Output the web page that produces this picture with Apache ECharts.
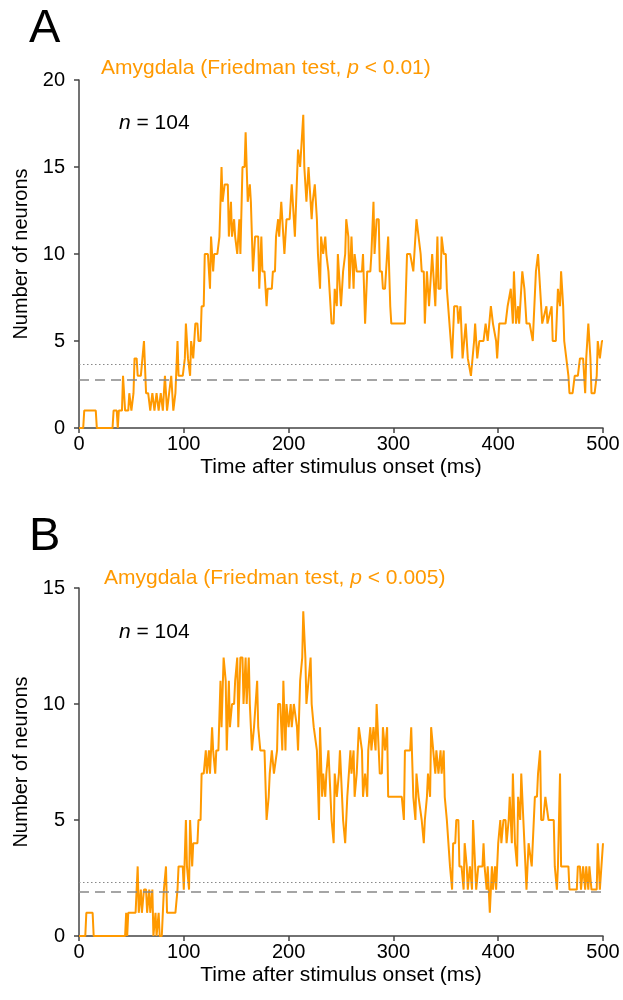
<!DOCTYPE html>
<html>
<head>
<meta charset="utf-8">
<script src="https://cdn.jsdelivr.net/npm/echarts@6/dist/echarts.min.js"></script>
<style>
html,body{margin:0;padding:0;background:#fff;}
#chart{width:623px;height:1000px;}
</style>
</head>
<body>
<div id="chart"></div>
<script>
// ---- DATA ----
const xTicks = [0, 100, 200, 300, 400, 500];
const yTicksA = [0, 5, 10, 15, 20];
const yTicksB = [0, 5, 10, 15];

// Panel A: [time (ms), number of neurons]
const pointsA = [
[0,0],[4,0],[5,1],[16,1],[17,0],[32,0],[33,1],[36,1],[37,0],[38,1],[41,1],[42,3],[44,1],[47,1],[48,2],[50,1],[52,2],[53,4],[55,4],[56,3],[59,3],[62,5],[64,2],[66,2],[68,1],[70,2],[72,1],[74,2],[76,1],[78,2],[80,1],[82,3],[84,1],[86,2],[88,3],[90,1],[92,2],[94,5],[95,3],[99,3],
[101,4],[102,6],[104,4],[106,3],[107,5],[109,4],[111,6],[113,6],[114,5],[116,5],[117,7],[119,7],[120,10],[123,10],[125,8],[126,11],[128,9],[129,10],[132,10],[134,11],[136,15],[137,13],[139,14],[142,14],[143,11],[145,13],[146,11],[148,12],[149,11],[151,10],[153,12],[154,10],[156,15],[158,15],[159,17],[161,13],[163,14],[164,13],[166,9],[168,11],[171,11],[172,8],[174,11],[175,9],[177,9],[179,7],[180,8],[184,8],[185,9],[187,9],[188,11],[190,12],[191,11],[193,13],[195,11],[196,10],[198,12],
[201,12],[203,14],[204,13],[206,11],[207,11],[209,16],[211,15],[212,15],[214,18],[215,15],[217,13],[219,15],[220,15],[222,12],[223,13],[225,14],[227,12],[228,10],[230,8],[231,11],[233,10],[235,11],[236,10],[238,9],[239,9],[241,6],[243,6],[244,8],[246,7],[247,10],[249,8],[250,7],[252,9],[254,10],[255,12],[257,11],[258,8],[260,11],[262,8],[263,10],[265,9],[270,9],[271,10],[273,6],[275,9],[278,9],[279,10],[281,13],[282,10],[284,12],[286,12],[287,9],[289,9],[290,8],[292,8],[294,10],[295,11],[297,7],[298,6],
[311,6],[313,10],[314,10],[316,10],[319,9],[322,12],[324,11],[326,10],[327,9],[329,9],[330,6],[332,9],[334,7],[335,8],[337,10],[338,9],[340,7],[342,11],[343,8],[345,8],[346,11],[348,10],[350,10],[351,8],[356,4],[358,7],[361,7],[362,6],[364,7],[366,4],[367,4],[369,6],[371,4],[374,3],[377,5],[378,6],[380,4],[382,5],[386,5],[388,6],[390,5],[393,7],[395,6],[398,5],[399,4],
[401,6],[407,6],[409,7],[412,8],[414,6],[415,9],[417,6],[419,7],[420,6],[423,9],[425,8],[427,6],[430,6],[433,5],[436,9],[438,10],[439,10],[442,6],[446,7],[447,6],[451,7],[452,5],[455,5],[457,8],[459,7],[460,9],[462,7],[463,5],[465,4],[467,3],[468,2],[471,2],[473,3],[476,3],[478,4],[481,4],[483,2],[484,4],[486,6],[488,4],[489,2],[492,2],[494,3],[495,5],[497,4],[499,5],[500,5]
];

// Panel B: [time (ms), number of neurons]
const pointsB = [
[0,0],[6,0],[7,1],[13,1],[14,0],[44,0],[45,1],[46,0],[47,1],[54,1],[56,3],[57,1],[59,2],[60,1],[62,2],[64,2],[65,1],[67,2],[68,1],[70,2],[71,0],[73,1],[74,0],[76,1],[77,0],[79,0],[81,2],[83,3],[84,1],[92,1],[94,2],[95,3],[99,3],
[100,2],[102,5],[103,3],[105,2],[106,5],[108,3],[109,4],[113,4],[114,5],[116,5],[117,7],[119,7],[121,8],[122,7],[124,8],[125,7],[127,9],[128,8],[130,7],[131,8],[133,8],[135,11],[136,9],[138,12],[140,11],[141,8],[143,11],[144,9],[146,10],[148,10],[149,11],[151,12],[152,9],[154,12],[156,12],[157,10],[159,12],[160,10],[162,12],[163,10],[165,8],[167,9],[168,9],[170,11],[171,9],[173,8],[177,8],[179,5],[181,6],[182,7],[184,8],[186,7],[187,7],[189,8],[190,10],[192,10],[194,8],[195,11],[197,8],[198,10],
[200,9],[202,10],[203,9],[205,10],[206,10],[208,9],[209,8],[211,11],[213,12],[214,14],[216,12],[217,10],[219,11],[221,12],[222,10],[224,9],[225,9],[227,8],[229,5],[230,9],[232,6],[233,7],[235,6],[236,7],[238,8],[240,6],[241,5],[243,4],[244,7],[246,6],[248,7],[249,8],[251,6],[252,5],[254,4],[256,6],[257,6],[259,8],[260,7],[262,8],[263,6],[265,7],[267,9],[268,9],[270,8],[271,6],[273,7],[275,6],[276,8],[278,9],[279,8],[281,9],[283,8],[284,10],[286,8],[287,7],[289,7],[290,9],[292,8],[294,9],[295,6],[297,6],
[308,6],[310,5],[311,8],[314,8],[316,8],[317,9],[319,6],[321,5],[322,7],[324,6],[325,6],[327,5],[329,4],[330,5],[332,6],[333,7],[335,6],[336,9],[338,8],[340,7],[341,8],[343,7],[345,8],[346,7],[348,8],[349,6],[351,5],[352,5],[354,3],[356,2],[357,4],[359,4],[360,5],[362,5],[363,3],[365,3],[367,2],[368,4],[370,3],[371,2],[373,3],[375,2],[376,5],[378,3],[379,2],[381,3],[385,3],[386,4],[387,3],[389,2],[390,3],[392,1],[394,3],[395,2],[397,3],[398,2],
[400,4],[402,5],[403,4],[405,5],[407,5],[408,4],[410,5],[411,6],[413,4],[414,7],[416,4],[418,3],[419,6],[421,5],[422,7],[424,5],[425,5],[427,2],[429,4],[430,4],[432,3],[433,3],[435,6],[437,6],[438,7],[440,8],[441,5],[443,5],[445,6],[446,6],[448,5],[453,5],[454,3],[456,2],[457,3],[459,7],[460,3],[467,3],[468,2],[475,2],[476,3],[478,3],[479,2],[481,3],[483,2],[484,3],[486,2],[487,3],[489,2],[494,2],[495,4],[497,2],[498,2],[500,4]
];

// chance-level reference lines
const dashedA = 2.8, dottedA = 3.65;
const dashedB = 1.9, dottedB = 2.3;
const nNeurons = 104;

// ---- CHART ----
const ORANGE = '#FF9900';
const FONT = 'Liberation Sans, Arial, sans-serif';
const chart = echarts.init(document.getElementById('chart'), null, {renderer: 'canvas'});

function xAxisCfg(gi) {
  return {
    type: 'value', gridIndex: gi, min: xTicks[0], max: xTicks[xTicks.length - 1], interval: 100,
    name: 'Time after stimulus onset (ms)', nameLocation: 'middle', nameGap: 29,
    nameTextStyle: {color: '#000', fontSize: 21, fontFamily: FONT, fontWeight: 'normal'},
    axisLine: {lineStyle: {color: '#444', width: 1.5}},
    axisTick: {show: true, inside: false, length: 5, lineStyle: {color: '#444', width: 1.5}},
    axisLabel: {color: '#000', fontSize: 20, fontFamily: FONT, margin: 6},
    splitLine: {show: false}
  };
}
function yAxisCfg(gi, ticks) {
  return {
    type: 'value', gridIndex: gi, min: 0, max: ticks[ticks.length - 1], interval: 5,
    name: 'Number of neurons', nameLocation: 'middle', nameGap: 46,
    nameTextStyle: {color: '#000', fontSize: 20, fontFamily: FONT, fontWeight: 'normal'},
    axisLine: {show: true, lineStyle: {color: '#444', width: 1.5}},
    axisTick: {show: true, inside: false, length: 5, lineStyle: {color: '#444', width: 1.5}},
    axisLabel: {color: '#000', fontSize: 20, fontFamily: FONT, margin: 14},
    splitLine: {show: false}
  };
}
function lineSeries(gi, pts, dashed, dotted) {
  return {
    type: 'line', xAxisIndex: gi, yAxisIndex: gi, data: pts,
    showSymbol: false, symbol: 'none', animation: false,
    lineStyle: {color: ORANGE, width: 2}, z: 3,
    markLine: {
      silent: true, symbol: 'none', animation: false, label: {show: false},
      data: [
        {yAxis: dashed, lineStyle: {color: '#888', type: [10, 6], width: 1.5}},
        {yAxis: dotted, lineStyle: {color: '#888', type: [1.5, 2.5], width: 1}}
      ]
    }
  };
}

const richTitle = {
  a: {fontSize: 21, color: ORANGE, fontFamily: FONT, fontWeight: 'normal'},
  p: {fontSize: 21, color: ORANGE, fontStyle: 'italic', fontFamily: FONT, fontWeight: 'normal'}
};
const richN = {
  a: {fontSize: 21, color: '#000', fontFamily: FONT, fontWeight: 'normal'},
  n: {fontSize: 21, color: '#000', fontStyle: 'italic', fontFamily: FONT, fontWeight: 'normal'}
};

const option = {
  backgroundColor: '#fff',
  animation: false,
  title: [
    {text: 'A', left: 24, top: 1, textStyle: {fontSize: 47, fontWeight: 'normal', color: '#000', fontFamily: FONT}},
    {text: 'B', left: 24, top: 509, textStyle: {fontSize: 47, fontWeight: 'normal', color: '#000', fontFamily: FONT}},
    {text: '{a|Amygdala (Friedman test, }{p|p}{a| < 0.01)}', left: 96, top: 53,
      textStyle: {fontWeight: 'normal', rich: richTitle}},
    {text: '{a|Amygdala (Friedman test, }{p|p}{a| < 0.005)}', left: 99, top: 563,
      textStyle: {fontWeight: 'normal', rich: richTitle}},
    {text: '{n|n}{a| = ' + nNeurons + '}', left: 114, top: 108,
      textStyle: {fontWeight: 'normal', rich: richN}},
    {text: '{n|n}{a| = ' + nNeurons + '}', left: 114, top: 617,
      textStyle: {fontWeight: 'normal', rich: richN}}
  ],
  grid: [
    {left: 79, top: 80, width: 524, height: 348},
    {left: 79, top: 588, width: 524, height: 348}
  ],
  xAxis: [xAxisCfg(0), xAxisCfg(1)],
  yAxis: [yAxisCfg(0, yTicksA), yAxisCfg(1, yTicksB)],
  series: [
    lineSeries(0, pointsA, dashedA, dottedA),
    lineSeries(1, pointsB, dashedB, dottedB)
  ]
};
chart.setOption(option);
</script>
</body>
</html>
